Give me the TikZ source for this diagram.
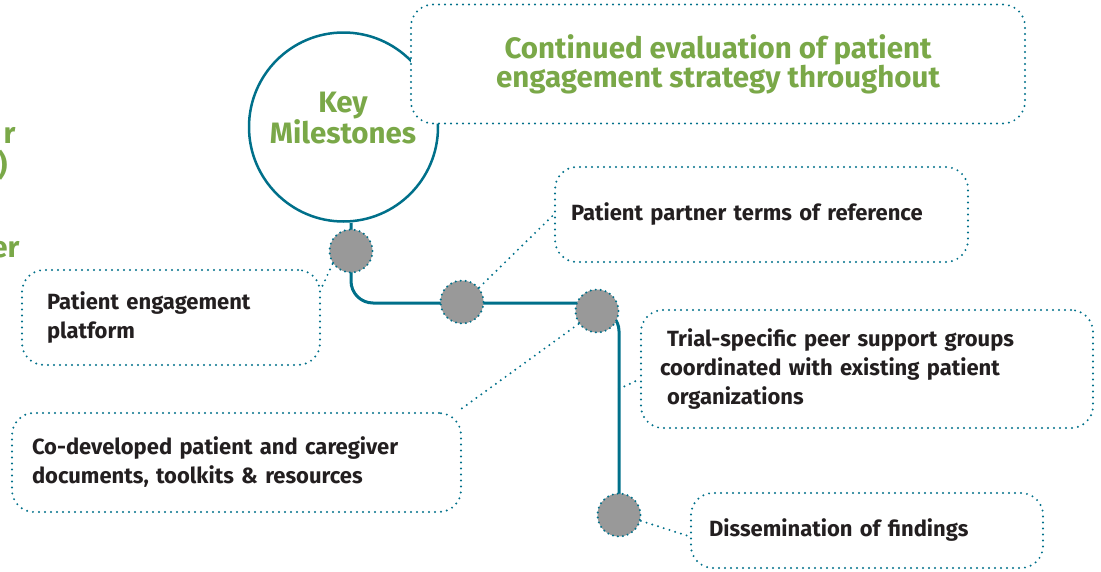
\documentclass[tikz,border=0pt]{standalone}
\usepackage{fontspec}
\setmainfont{Fira Sans}
\usepackage{xcolor}
\usetikzlibrary{positioning,calc}

\definecolor{mileteal}{RGB}{0,112,138}
\definecolor{milegreen}{RGB}{122,168,72}
\definecolor{stonegrey}{RGB}{153,153,153}
\definecolor{inktext}{RGB}{35,31,32}

\begin{document}
\begin{tikzpicture}[x=1pt, y=-1pt,
  track/.style={draw=mileteal, line width=3pt},
  link/.style={draw=mileteal, line width=2.2pt, line cap=round, dash pattern=on 0pt off 6pt},
  stone/.style={circle, fill=stonegrey, draw=mileteal, line width=2.2pt, line cap=round,
    dash pattern=on 0pt off 5pt, minimum size=43pt, inner sep=0pt},
  infobox/.style={link, fill=white, rounded corners=22pt, align=left, text=inktext,
    font=\fontsize{22}{29}\selectfont\bfseries, inner ysep=0pt},
  greentext/.style={text=milegreen, font=\fontsize{29.5}{28}\selectfont\bfseries, align=center},
]
  \useasboundingbox (0,0) rectangle (1101,571);

  % === Fragments coupes a gauche ===
  \node[greentext, anchor=base east] (fragr) at (19,143) {r};
  \node[greentext, anchor=base east] (fragp) at (11,175) {)};
  \node[greentext, anchor=base east] (frager) at (23,257) {er};

  % === Cercle principal ===
  \node[circle, draw=mileteal, line width=2.5pt, fill=white, minimum size=189pt, inner sep=0pt]
    (keyring) at (343.5,127) {};

  \node[infobox, minimum width=614, minimum height=119, align=center, text=milegreen,
    font=\fontsize{29.5}{29}\selectfont\bfseries] (evaluation) at (718,64)
    {Continued evaluation of patient\\engagement strategy throughout};

  \node[greentext] (keylabel) at (343,118) {Key\\Milestones};

  % === Encadres ===
  \node[infobox, text width=381, inner xsep=16, minimum height=95] (partner) at (761.5,214.5)
    {Patient partner terms of reference};
  \node[infobox, text width=248, inner xsep=25, minimum height=95] (platform) at (171,317.5)
    {Patient engagement\\platform};
  \node[infobox, text width=409, inner xsep=20, minimum height=99] (codev) at (236.5,462.5)
    {Co-developed patient and caregiver\\documents, toolkits \& resources};
  \node[infobox, text width=414, inner xsep=19, minimum height=118] (trial) at (867,369)
    {\hspace*{7pt}Trial-specific peer support groups\\coordinated with existing patient\\\hspace*{7pt}organizations};
  \node[infobox, text width=316, inner xsep=18, minimum height=75] (dissem) at (867,530.5)
    {Dissemination of findings};

  % === Parcours ===
  \coordinate (c1) at (351,251);
  \coordinate (c2) at (462,302);
  \coordinate (c3) at (597,311);
  \coordinate (c4) at (619,515);
  \draw[track, rounded corners=22] (c1 |- keyring.south) -- (c1) |- (590,303);
  \draw[track, rounded corners=20] (c3) -| (c4);
  \coordinate (tap) at (619,389);

  % === Jalons ===
  \node[stone] (m1) at (c1) {};
  \node[stone] (m2) at (c2) {};
  \node[stone] (m3) at (c3) {};
  \node[stone] (m4) at (c4) {};

  % === Liens pointilles ===
  \draw[link] (m1.215) -- ([yshift=-20]platform.north east);
  \draw[link] (m2.40) -- (partner.west);
  \draw[link] (m3.215) -- ([xshift=-5]codev.north east);
  \draw[link] (tap) -- ([yshift=-10]trial.west);
  \draw[link] (m4.-15) -- ([yshift=-6]dissem.west);

\end{tikzpicture}
\end{document}
